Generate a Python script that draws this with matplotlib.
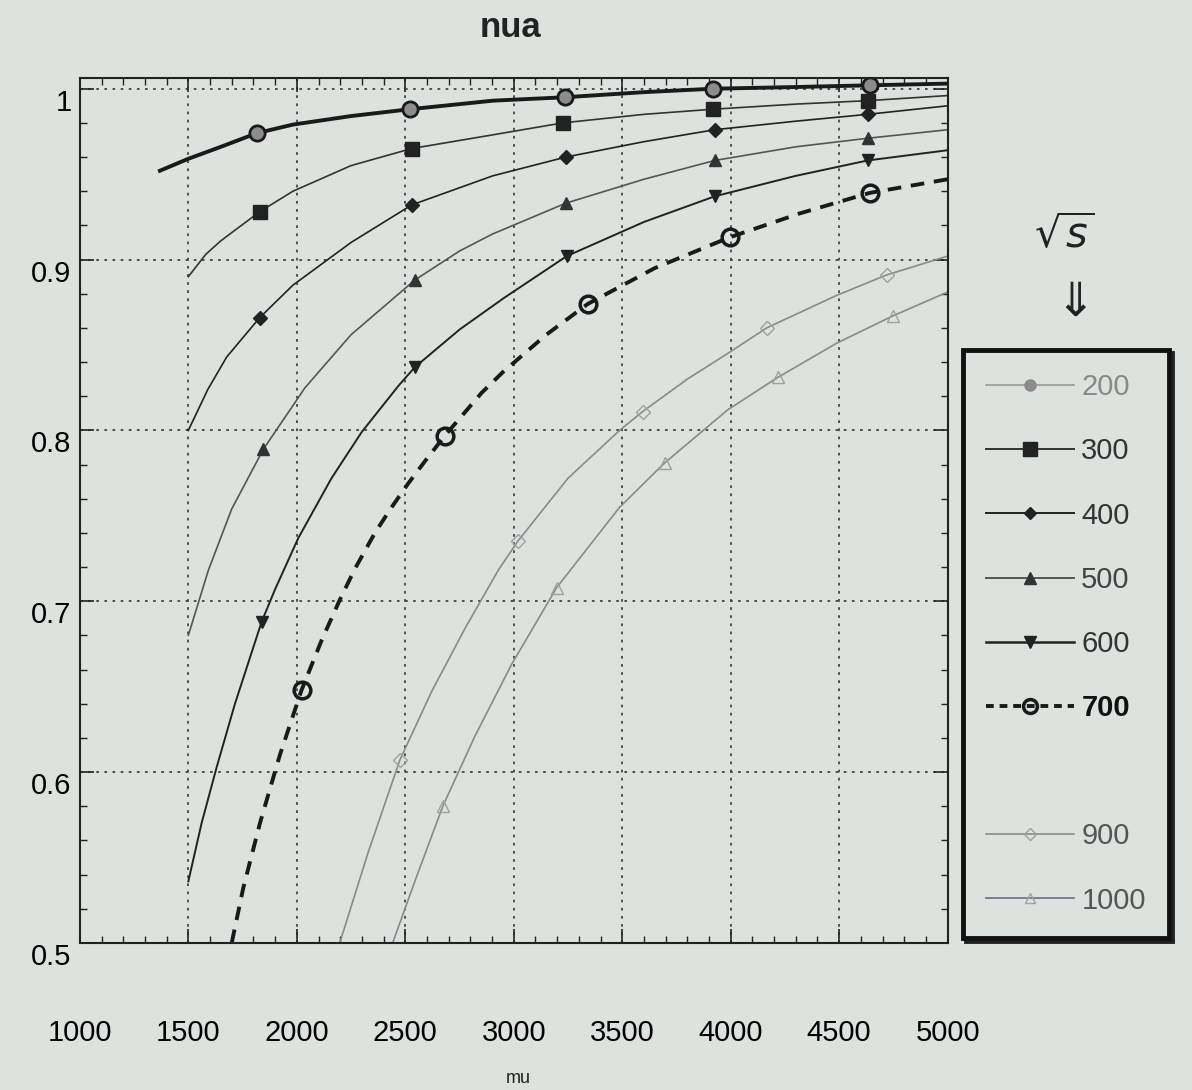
import matplotlib
matplotlib.use("Agg")
import matplotlib.pyplot as plt
import matplotlib.transforms as mtransforms
from matplotlib.lines import Line2D
from matplotlib.ticker import MultipleLocator

plt.rcParams['font.family'] = ['Liberation Sans', 'DejaVu Sans']

# curves: mu on x, nua on y, one curve per sqrt(s)
x_200 = [1369, 1500, 1650, 1816, 1982, 2250, 2521, 2903, 3235, 3600, 3917, 4300, 4640, 5000]
y_200 = [0.952, 0.959, 0.966, 0.974, 0.979, 0.984, 0.988, 0.993, 0.995, 0.998, 1.000, 1.001, 1.002, 1.003]
x_300 = [1500, 1580, 1650, 1829, 1982, 2250, 2530, 2903, 3226, 3600, 3917, 4300, 4631, 5000]
y_300 = [0.890, 0.903, 0.911, 0.928, 0.940, 0.955, 0.965, 0.973, 0.980, 0.985, 0.988, 0.991, 0.993, 0.996]
x_400 = [1500, 1590, 1677, 1829, 1982, 2250, 2530, 2903, 3240, 3600, 3926, 4300, 4631, 5000]
y_400 = [0.800, 0.824, 0.843, 0.866, 0.885, 0.910, 0.932, 0.949, 0.960, 0.969, 0.976, 0.981, 0.985, 0.990]
x_500 = [1500, 1592, 1700, 1846, 2038, 2250, 2544, 2750, 2903, 3240, 3600, 3926, 4300, 4631, 5000]
y_500 = [0.680, 0.718, 0.754, 0.789, 0.825, 0.856, 0.888, 0.905, 0.915, 0.933, 0.947, 0.958, 0.966, 0.971, 0.976]
x_600 = [1500, 1561, 1631, 1715, 1838, 1900, 2007, 2160, 2299, 2468, 2544, 2750, 2949, 3244, 3600,
         3926, 4300, 4631, 5000]
y_600 = [0.536, 0.570, 0.603, 0.640, 0.688, 0.707, 0.737, 0.772, 0.799, 0.826, 0.837, 0.859, 0.877, 0.902, 0.922,
         0.937, 0.949, 0.958, 0.964]
x_700 = [1700, 1753, 1830, 1922, 2022, 2114, 2199, 2268, 2360, 2437, 2514, 2591, 2683, 2852, 2949, 3150,
         3341, 3650, 3995, 4318, 4640, 5000]
y_700 = [0.500, 0.532, 0.570, 0.610, 0.648, 0.677, 0.701, 0.719, 0.740, 0.755, 0.769, 0.782, 0.797, 0.822, 0.834, 0.856,
         0.874, 0.895, 0.913, 0.927, 0.939, 0.947]
x_900 = [2198, 2329, 2475, 2621, 2775, 2928, 3018, 3250, 3488, 3594, 3800, 3986, 4166, 4488, 4719, 5000]
y_900 = [0.500, 0.553, 0.607, 0.647, 0.684, 0.718, 0.735, 0.772, 0.800, 0.811, 0.830, 0.845, 0.860, 0.879, 0.891, 0.902]
x_1000 = [2442, 2544, 2673, 2821, 2990, 3198, 3488, 3696, 3986, 4217, 4488, 4747, 5000]
y_1000 = [0.500, 0.536, 0.580, 0.621, 0.663, 0.708, 0.755, 0.781, 0.812, 0.831, 0.851, 0.867, 0.881]

# marker positions (indices into the curves above)
mk_200 = [3, 6, 8, 10, 12]
mk_300 = [3, 6, 8, 10, 12]
mk_400 = [3, 6, 8, 10, 12]
mk_500 = [3, 6, 9, 11, 13]
mk_600 = [4, 10, 13, 15, 17]
mk_700 = [4, 12, 16, 18, 20]
mk_900 = [2, 6, 9, 12, 14]
mk_1000 = [2, 5, 7, 9, 11]

legend_labels = ['200', '300', '400', '500', '600', '700', '', '900', '1000']
x_ticks = [1000, 1500, 2000, 2500, 3000, 3500, 4000, 4500, 5000]
y_ticks = [0.5, 0.6, 0.7, 0.8, 0.9, 1.0]
y_ticklabels = ['0.5', '0.6', '0.7', '0.8', '0.9', '1']

bg = '#dde2de'
fig = plt.figure(figsize=(11.92, 10.9), dpi=100, facecolor=bg)
ax = fig.add_axes([0.067, 0.135, 0.728, 0.793], facecolor=bg)

kw = dict(solid_joinstyle='round', dash_joinstyle='round')
ax.plot(x_200, y_200, color='#1a1a1a', lw=2.8, marker='o', markevery=mk_200, ms=11,
        mfc='#8c8c8c', mec='#1a1a1a', mew=2, **kw)
ax.plot(x_300, y_300, color='#333333', lw=1.2, marker='s', markevery=mk_300, ms=10,
        mfc='#222222', mec='#222222', **kw)
ax.plot(x_400, y_400, color='#222222', lw=1.2, marker='D', markevery=mk_400, ms=7,
        mfc='#222222', mec='#222222', **kw)
ax.plot(x_500, y_500, color='#555555', lw=1.2, marker='^', markevery=mk_500, ms=9,
        mfc='#333333', mec='#333333', **kw)
ax.plot(x_600, y_600, color='#222222', lw=1.4, marker='v', markevery=mk_600, ms=9,
        mfc='#222222', mec='#222222', **kw)
ax.plot(x_700, y_700, color='#1a1a1a', lw=2.8, linestyle=(0, (3.5, 2.5)), marker='o',
        markevery=mk_700, ms=12, mfc='none', mec='#1a1a1a', mew=2.5, **kw)
ax.plot(x_900, y_900, color='#8a8a8a', lw=1.2, marker='D', markevery=mk_900, ms=7,
        mfc='none', mec='#a0a0a0', mew=1, **kw)
ax.plot(x_1000, y_1000, color='#8a8a8a', lw=1.2, marker='^', markevery=mk_1000, ms=9,
        mfc='none', mec='#a0a0a0', mew=1, **kw)

ax.set_xlim(1000, 5000)
ax.set_ylim(0.5, 1.006)
ax.set_xticks(x_ticks)
ax.set_yticks(y_ticks)
ax.set_yticklabels(y_ticklabels)
ax.xaxis.set_minor_locator(MultipleLocator(100))
ax.yaxis.set_minor_locator(MultipleLocator(0.02))
ax.grid(True, which='major', color='#444444', lw=1.3, linestyle=(0, (1.5, 3)))
ax.tick_params(which='both', direction='in', top=True, right=True, color='#222222')
ax.tick_params(which='major', length=10, width=1.2)
ax.tick_params(which='minor', length=5, width=1)
ax.tick_params(axis='x', labelsize=21, pad=55)
ax.tick_params(axis='y', labelsize=21, pad=6)
for sp in ax.spines.values():
    sp.set_color('#222222')
    sp.set_linewidth(1.5)

# y labels sit a bit below their gridlines in the scan
offset = mtransforms.ScaledTranslation(0, -0.11, fig.dpi_scale_trans)
for lab in ax.get_yticklabels():
    lab.set_transform(lab.get_transform() + offset)

fig.text(0.428, 0.975, 'nua', ha='center', va='center', fontsize=25, fontweight='bold', color='#222222')
fig.text(0.435, 0.011, 'mu', ha='center', va='center', fontsize=13, color='#222222')

# handwritten note next to the legend
fig.text(0.893, 0.783, r'$\sqrt{s}$', ha='center', va='center', fontsize=30, color='#222222')
fig.text(0.902, 0.722, '\u21d3', ha='center', va='center', fontsize=34, color='#222222',
         family='DejaVu Sans')

handles = [
    Line2D([], [], color='#9a9a9a', lw=1.2, marker='o', ms=8, mfc='#8c8c8c', mec='#8c8c8c'),
    Line2D([], [], color='#333333', lw=1.4, marker='s', ms=10, mfc='#222222', mec='#222222'),
    Line2D([], [], color='#222222', lw=1.4, marker='D', ms=6, mfc='#222222', mec='#222222'),
    Line2D([], [], color='#555555', lw=1.4, marker='^', ms=8, mfc='#333333', mec='#333333'),
    Line2D([], [], color='#222222', lw=1.8, marker='v', ms=8, mfc='#222222', mec='#222222'),
    Line2D([], [], color='#1a1a1a', lw=2.8, linestyle=(0, (2, 1.5)), marker='o', ms=10,
           mfc='none', mec='#1a1a1a', mew=2.5),
    Line2D([], [], linestyle='none'),
    Line2D([], [], color='#8a8a8a', lw=1.2, marker='D', ms=6, mfc='none', mec='#a0a0a0'),
    Line2D([], [], color='#6a6a8a', lw=1.2, marker='^', ms=7, mfc='none', mec='#a0a0a0'),
]
leg = fig.legend(handles, legend_labels, loc='upper left', bbox_to_anchor=(0.808, 0.679),
                 borderaxespad=0, fontsize=21, frameon=True, fancybox=False,
                 facecolor=bg, edgecolor='#111111', framealpha=1,
                 handlelength=3.0, handletextpad=0.25, labelspacing=1.24,
                 borderpad=0.8, shadow={'color': '#222222', 'alpha': 1})
leg.get_frame().set_linewidth(3.5)
text_colors = ['#8a8a8a', '#333333', '#333333', '#444444', '#333333', '#111111', '#333333', '#555555', '#555555']
for t, c in zip(leg.get_texts(), text_colors):
    t.set_color(c)
leg.get_texts()[5].set_fontweight('bold')

fig.savefig('out.png', dpi=100, facecolor=bg)
